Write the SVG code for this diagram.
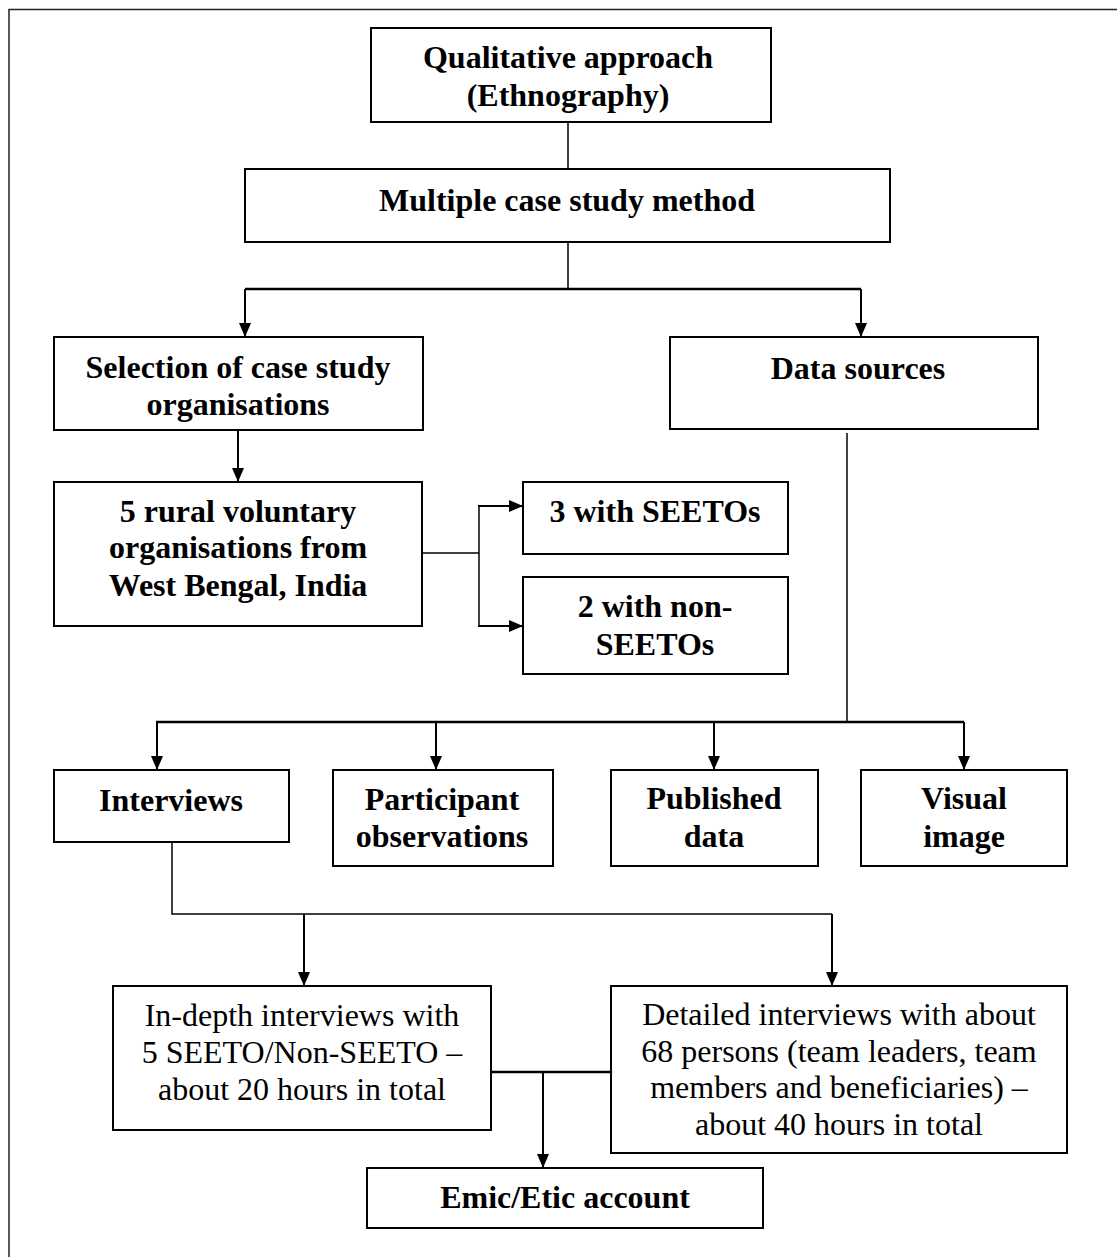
<svg xmlns="http://www.w3.org/2000/svg" width="1117" height="1257" viewBox="0 0 1117 1257">
<style>
  .box { fill: #fff; stroke: #000; stroke-width: 2; }
  .t { font-family: "Liberation Serif", "Times New Roman", serif; font-size: 32px; fill: #000; text-anchor: middle; }
  .b { font-weight: bold; }
  .ln { fill: none; stroke: #000; stroke-width: 1.5; }
  .ar { fill: none; stroke: #000; stroke-width: 2; marker-end: url(#arr); }
  .thick { fill: none; stroke: #000; stroke-width: 2.5; }
</style>
<defs>
  <marker id="arr" markerUnits="userSpaceOnUse" markerWidth="14" markerHeight="12" refX="14" refY="6" orient="auto">
    <path d="M0,0 L14,6 L0,12 z" fill="#000"/>
  </marker>
</defs>
<rect x="0" y="0" width="1117" height="1257" fill="#fff"/>
<rect x="9" y="9.5" width="1200" height="1300" fill="none" stroke="#222" stroke-width="1.5"/>

<g id="connectors">
  <line class="ln" x1="568" y1="122" x2="568" y2="169"/>
  <line class="ln" x1="568" y1="242" x2="568" y2="289"/>
  <line class="thick" x1="245" y1="289" x2="861" y2="289"/>
  <path class="ar" d="M245,289 L245,337"/>
  <path class="ar" d="M861,289 L861,337"/>
  <path class="ar" d="M238,430 L238,482"/>
  <line class="ln" x1="422" y1="553" x2="479" y2="553"/>
  <line class="ln" x1="479" y1="506" x2="479" y2="626"/>
  <path class="ar" d="M478,506 L523,506"/>
  <path class="ar" d="M478,626 L523,626"/>
  <line class="ln" x1="847" y1="433" x2="847" y2="722"/>
  <line class="thick" x1="156" y1="722" x2="964" y2="722"/>
  <path class="ar" d="M157,722 L157,770"/>
  <path class="ar" d="M436,722 L436,770"/>
  <path class="ar" d="M714,722 L714,770"/>
  <path class="ar" d="M964,722 L964,770"/>
  <path class="ln" d="M172,842 L172,914 L832,914"/>
  <path class="ar" d="M304,914 L304,986"/>
  <path class="ar" d="M832,914 L832,986"/>
  <line class="thick" x1="484" y1="1072" x2="617" y2="1072"/>
  <path class="ar" d="M543,1072 L543,1168"/>
</g>

<g id="n-qualitative">
  <rect class="box" x="371" y="28" width="400" height="94"/>
  <text class="t b" x="568" y="68">Qualitative approach</text>
  <text class="t b" x="568" y="106">(Ethnography)</text>
</g>
<g id="n-multiple">
  <rect class="box" x="245" y="169" width="645" height="73"/>
  <text class="t b" x="567" y="211">Multiple case study method</text>
</g>
<g id="n-selection">
  <rect class="box" x="54" y="337" width="369" height="93"/>
  <text class="t b" x="238" y="378">Selection of case study</text>
  <text class="t b" x="238" y="415">organisations</text>
</g>
<g id="n-datasources">
  <rect class="box" x="670" y="337" width="368" height="92"/>
  <text class="t b" x="858" y="379">Data sources</text>
</g>
<g id="n-rural">
  <rect class="box" x="54" y="482" width="368" height="144"/>
  <text class="t b" x="238" y="522">5 rural voluntary</text>
  <text class="t b" x="238" y="558">organisations from</text>
  <text class="t b" x="238" y="596">West Bengal, India</text>
</g>
<g id="n-seetos">
  <rect class="box" x="523" y="482" width="265" height="72"/>
  <text class="t b" x="655" y="522">3 with SEETOs</text>
</g>
<g id="n-nonseetos">
  <rect class="box" x="523" y="577" width="265" height="97"/>
  <text class="t b" x="655" y="617">2 with non-</text>
  <text class="t b" x="655" y="655">SEETOs</text>
</g>
<g id="n-interviews">
  <rect class="box" x="54" y="770" width="235" height="72"/>
  <text class="t b" x="171" y="811">Interviews</text>
</g>
<g id="n-participant">
  <rect class="box" x="333" y="770" width="220" height="96"/>
  <text class="t b" x="442" y="810">Participant</text>
  <text class="t b" x="442" y="847">observations</text>
</g>
<g id="n-published">
  <rect class="box" x="611" y="770" width="207" height="96"/>
  <text class="t b" x="714" y="809">Published</text>
  <text class="t b" x="714" y="847">data</text>
</g>
<g id="n-visual">
  <rect class="box" x="861" y="770" width="206" height="96"/>
  <text class="t b" x="964" y="809">Visual</text>
  <text class="t b" x="964" y="847">image</text>
</g>
<g id="n-indepth">
  <rect class="box" x="113" y="986" width="378" height="144"/>
  <text class="t" x="302" y="1026">In-depth interviews with</text>
  <text class="t" x="302" y="1063">5 SEETO/Non-SEETO –</text>
  <text class="t" x="302" y="1100">about 20 hours in total</text>
</g>
<g id="n-detailed">
  <rect class="box" x="611" y="986" width="456" height="167"/>
  <text class="t" x="839" y="1025">Detailed interviews with about</text>
  <text class="t" x="839" y="1062">68 persons (team leaders, team</text>
  <text class="t" x="839" y="1098">members and beneficiaries) –</text>
  <text class="t" x="839" y="1135">about 40 hours in total</text>
</g>
<g id="n-emic">
  <rect class="box" x="367" y="1168" width="396" height="60"/>
  <text class="t b" x="565" y="1208">Emic/Etic account</text>
</g>
</svg>
